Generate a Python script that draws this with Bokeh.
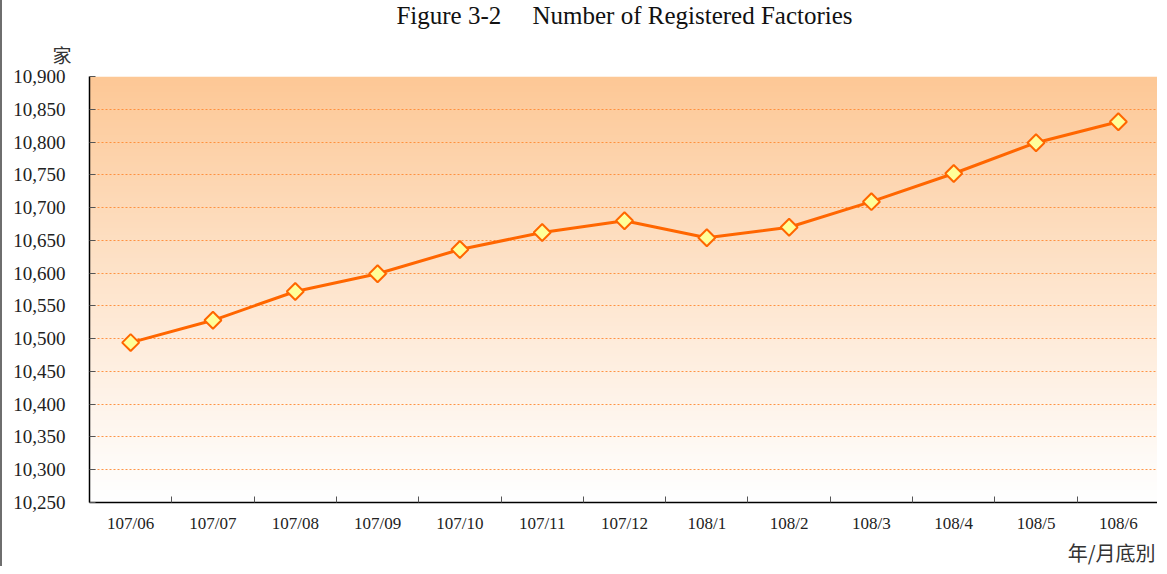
import numpy as np
from bokeh.plotting import figure
from bokeh.models import FixedTicker, Title, Range1d, NumeralTickFormatter
from bokeh.embed import file_html
from bokeh.resources import INLINE

months = ["107/06", "107/07", "107/08", "107/09", "107/10", "107/11", "107/12",
          "108/1", "108/2", "108/3", "108/4", "108/5", "108/6"]
factories = [10494, 10528, 10572, 10599, 10636, 10662, 10680,
             10654, 10670, 10709, 10752, 10799, 10831]
y_ticks = list(range(10250, 10901, 50))

title_text = "Figure 3-2\u00a0\u00a0\u00a0\u00a0\u00a0Number of Registered Factories"
y_unit = "家"
x_unit = "年/月底別"

n = len(months)
xs = [i + 0.5 for i in range(n)]
y0, y1 = y_ticks[0], y_ticks[-1]

p = figure(width=1157, height=566, output_backend="svg", toolbar_location=None,
           x_range=Range1d(0, n), y_range=Range1d(y0, y1),
           min_border_left=87, min_border_right=0, min_border_top=76, min_border_bottom=64)
p.styles = {"border-left": "2px solid #6e6e6e"}
p.background_fill_color = "white"
p.border_fill_color = "white"
p.outline_line_color = None

# main title (outermost row)
p.title.text = title_text
p.title.align = "center"
p.title.offset = -2
p.title.text_font = "Liberation Serif"
p.title.text_font_size = "25px"
p.title.text_font_style = "normal"
p.title.text_color = "#111111"
p.title.standoff = 0
p.title.vertical_align = "top"

# y unit (row nearer to the frame)
yu = Title(text=y_unit, align="left", offset=-37, text_font="Noto Sans CJK TC",
           text_font_size="19px", text_font_style="normal", text_color="#333333",
           standoff=17)
p.add_layout(yu, "above")

xu = Title(text=x_unit, align="right", text_font="Noto Sans CJK TC",
           text_font_size="20px", text_font_style="normal", text_color="#333333",
           offset=4, standoff=0)
p.add_layout(xu, "below")

# gradient background
H = 200
t = np.linspace(0, 1, H)[:, None]  # 0 bottom -> 1 top
top = np.array([253, 200, 150])
bot = np.array([255, 255, 255])
col = bot + (top - bot) * (t ** 1.1)
img = np.zeros((H, 1), dtype=np.uint32)
view = img.view(dtype=np.uint8).reshape((H, 1, 4))
view[:, 0, 0] = col[:, 0].astype(np.uint8)
view[:, 0, 1] = col[:, 1].astype(np.uint8)
view[:, 0, 2] = col[:, 2].astype(np.uint8)
view[:, 0, 3] = 255
p.image_rgba(image=[img], x=0, y=y0, dw=n, dh=y1 - y0, level="image")

# grid
p.xgrid.grid_line_color = None
p.ygrid.grid_line_color = "#FF8A33"
p.ygrid.grid_line_dash = "2 2"
p.ygrid.grid_line_width = 1
p.ygrid.grid_line_alpha = 0.9

# y axis
p.yaxis.ticker = FixedTicker(ticks=y_ticks)
p.yaxis.formatter = NumeralTickFormatter(format="0,0")
p.yaxis.major_tick_in = 6
p.yaxis.major_tick_out = 0
p.yaxis.minor_tick_line_color = None
p.yaxis.major_label_text_font = "Liberation Serif"
p.yaxis.major_label_text_font_size = "19px"
p.yaxis.major_label_text_color = "#222222"
p.yaxis.major_label_standoff = 24
p.yaxis.axis_line_color = "black"
p.yaxis.axis_line_width = 1.5
p.yaxis.major_tick_line_color = "#555555"

# x axis
p.xaxis.ticker = FixedTicker(ticks=xs, minor_ticks=list(range(n + 1)))
p.xaxis.major_label_overrides = {x: m for x, m in zip(xs, months)}
p.xaxis.major_tick_line_color = None
p.xaxis.minor_tick_in = 6
p.xaxis.minor_tick_out = 0
p.xaxis.minor_tick_line_color = "#555555"
p.xaxis.major_label_text_font = "Liberation Serif"
p.xaxis.major_label_text_font_size = "17px"
p.xaxis.major_label_text_color = "#222222"
p.xaxis.major_label_standoff = 5
p.xaxis.axis_line_color = "black"
p.xaxis.axis_line_width = 1.5

# data
p.line(xs, factories, line_color="#FF6600", line_width=3)
p.scatter(xs, factories, marker="square", angle=np.pi / 4, size=12,
          fill_color="#FFFF99", line_color="#FF6600", line_width=2)

open("out.html", "w").write(file_html(p, INLINE))
